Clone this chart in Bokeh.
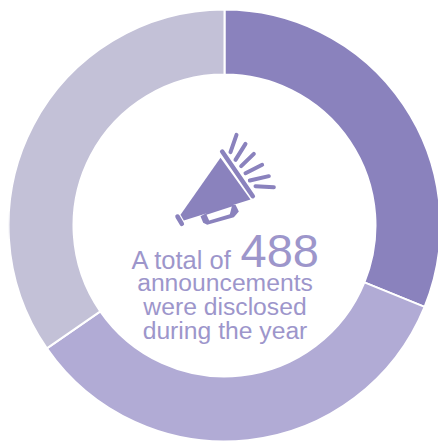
from bokeh.plotting import figure
from bokeh.embed import file_html
from bokeh.resources import INLINE
from bokeh.core.properties import value
import math

categories = ["Segment A", "Segment B", "Segment C"]
counts = [152, 167, 169]
colors = ["#8a82bd", "#b1abd5", "#c3c1d7"]
total_label = "488"

W, H = 430, 433
def Y(py): return 441 - py

p = figure(width=W, height=H, output_backend="svg", toolbar_location=None,
           x_range=(8, 438), y_range=(0, 433), min_border=0, outline_line_color=None)
p.margin = (8, 0, 0, 8)
p.axis.visible = False
p.grid.visible = False
p.background_fill_color = "white"

cx, cy = 224, Y(225)
total = sum(counts)
a = math.pi / 2
for n, c in zip(counts, colors):
    b = a - n / total * 2 * math.pi
    p.annular_wedge(x=[cx], y=[cy], inner_radius=151, outer_radius=216,
                    start_angle=[b], end_angle=[a], color=c, line_color="white", line_width=2)
    a = b

ink = "#8a82bd"
def Z(pts):
    return [170 + x / 3 for x, y in pts], [Y(125 + y / 3) for x, y in pts]

xs, ys = Z([(90,272),(98,292),(110,298),(190,275),(205,258),(195,238),(150,240)])
p.patch(xs, ys, color=ink, line_width=0)
xs, ys = Z([(108,268),(116,285),(178,266),(184,243)])
p.patch(xs, ys, color="white", line_width=0)
xs, ys = Z([(150,97),(240,222),(40,285),(30,268)])
p.patch(xs, ys, color=ink, line_width=0)
for seg, w in [(((155,78),(247,212)), 4.5), (((21,273),(34,295)), 4.5),
               (((198,28),(180,80)), 4), (((225,55),(195,103)), 4), (((250,85),(212,122)), 4),
               (((275,118),(225,143)), 4), (((295,152),(238,165)), 4), (((310,185),(255,182)), 4)]:
    xs, ys = Z(seg)
    p.line(xs, ys, line_color=ink, line_width=w, line_cap="round")

font = value("Liberation Sans")
tc = "#9d96cb"
def t(px, py, s, size, align="center"):
    p.text([px], [Y(py)], text=[s], text_font=font, text_font_size=f"{size}px", text_color=tc,
           text_align=align, text_baseline="middle")
t(131, 259, "A total of", 25.5, "left")
t(240, 250, total_label, 47, "left")
t(224.5, 282, "announcements", 24.7)
t(224.5, 306, "were disclosed", 24.7)
t(224.5, 330, "during the year", 24.7)

open("out.html", "w").write(file_html(p, INLINE))
